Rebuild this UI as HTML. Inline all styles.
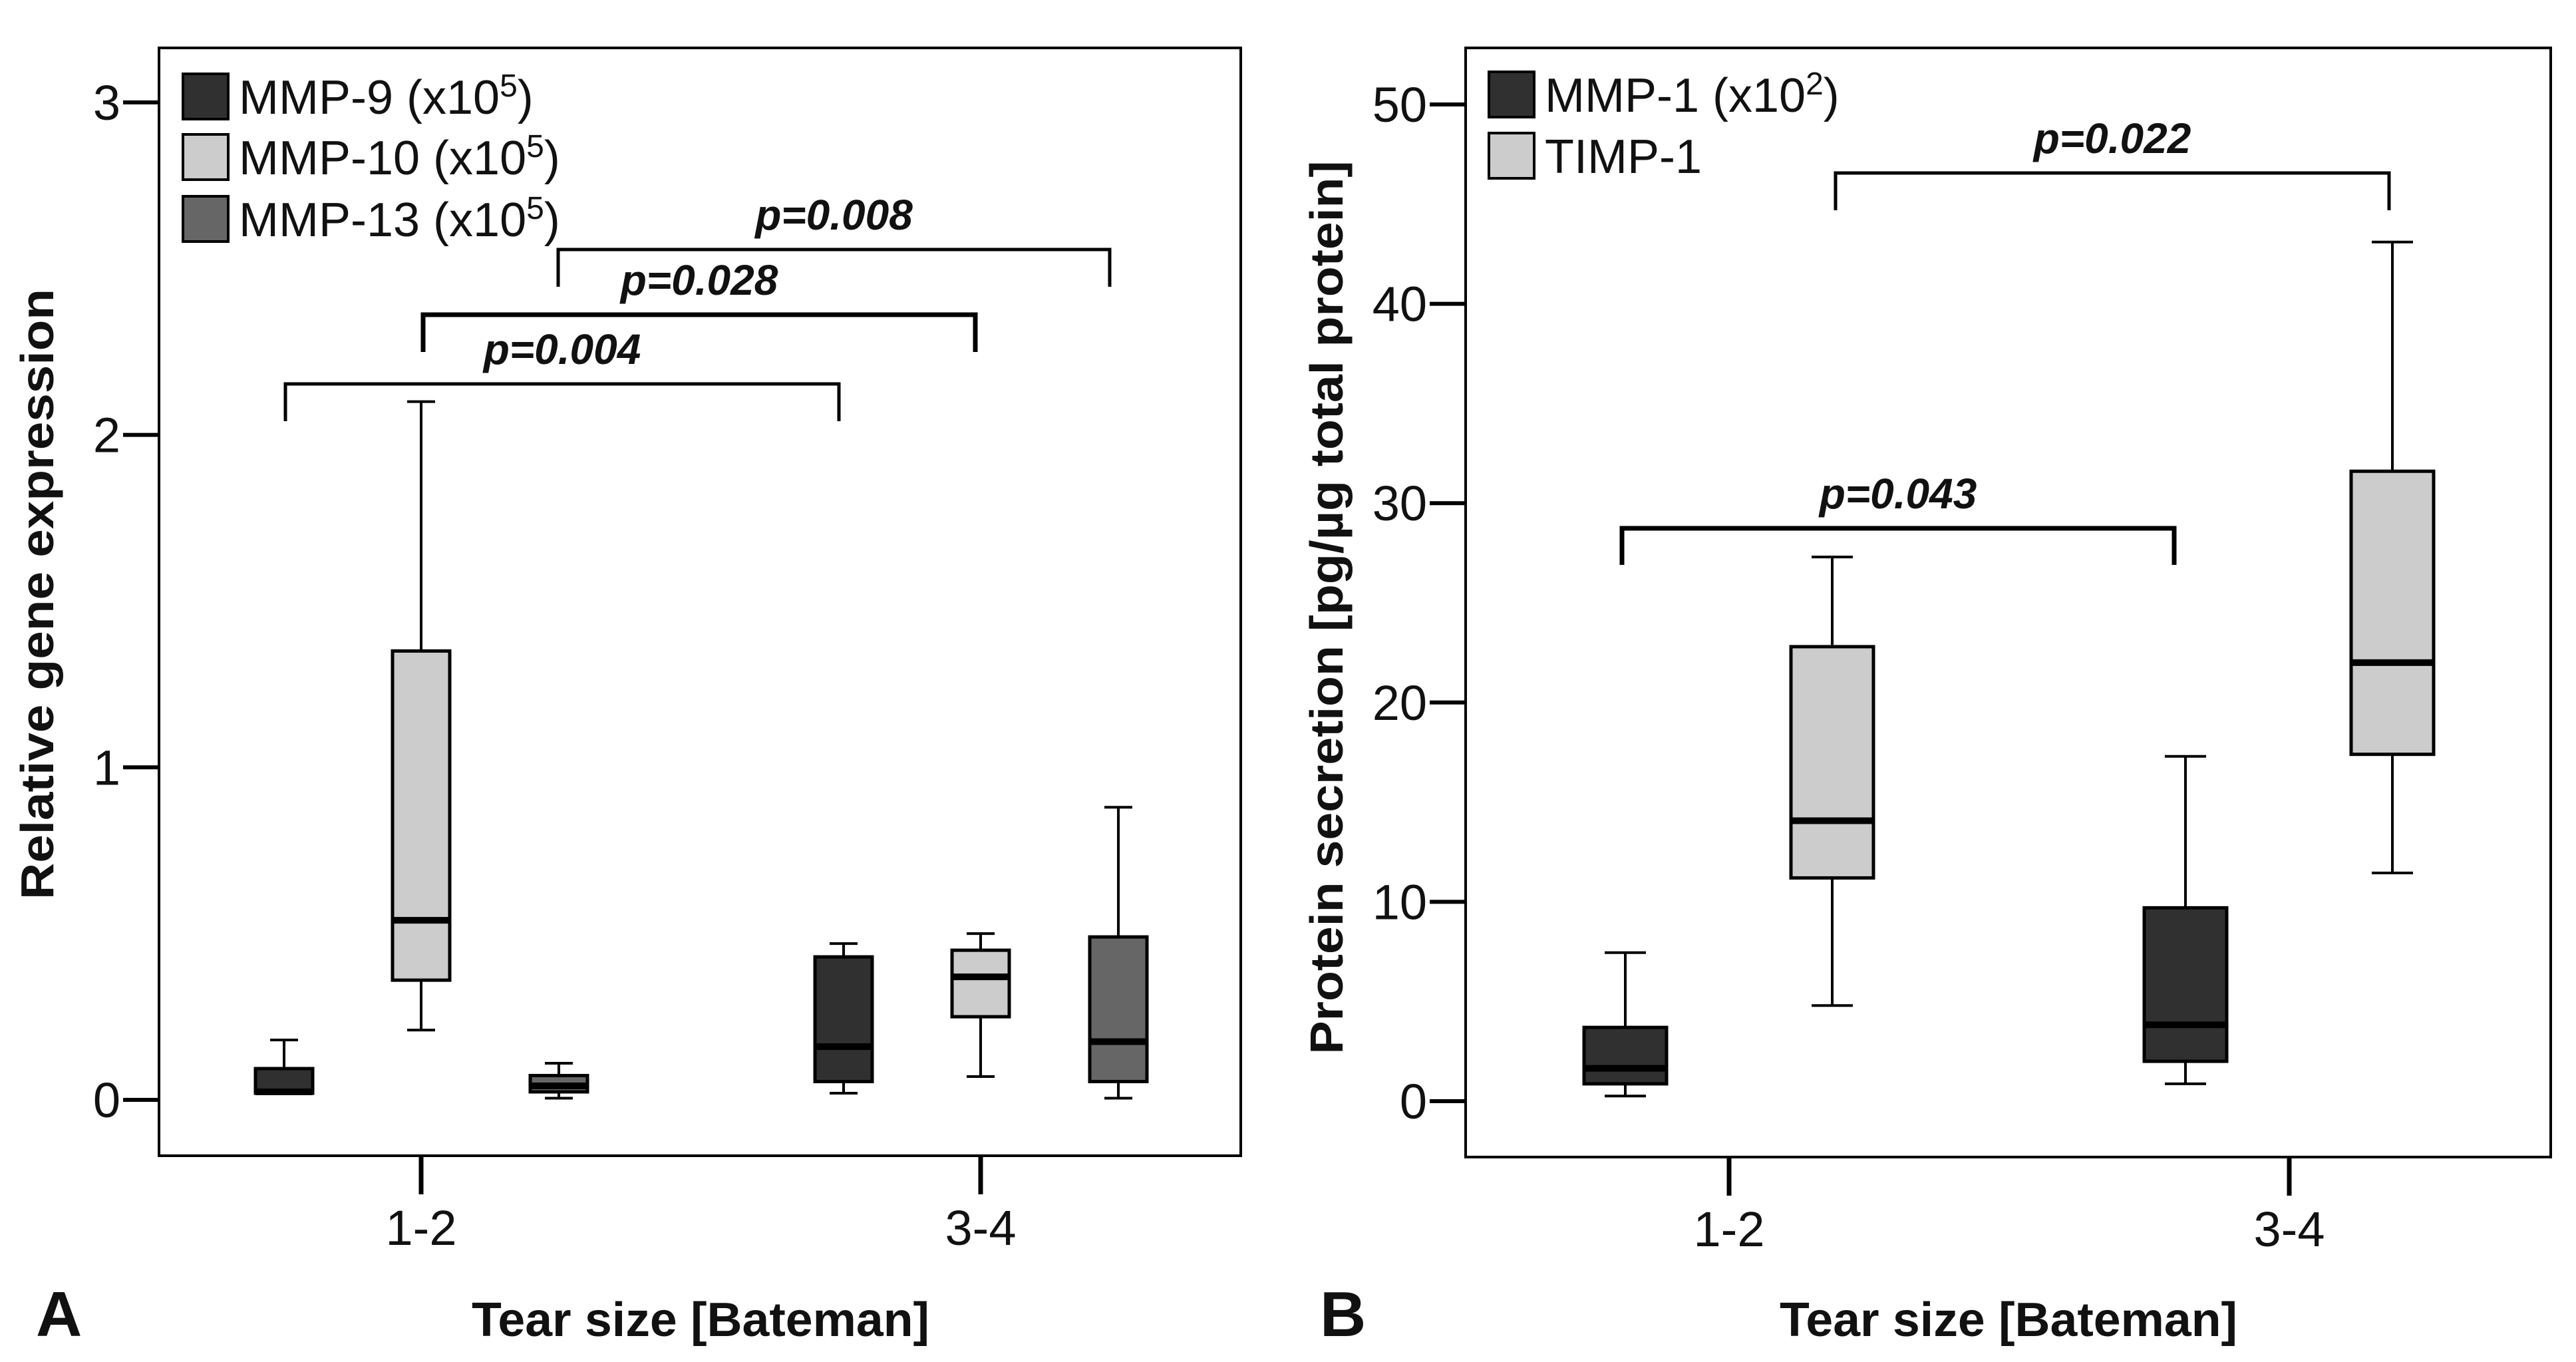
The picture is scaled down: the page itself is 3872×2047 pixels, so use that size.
<!DOCTYPE html>
<html><head><meta charset="utf-8"><style>
html,body{margin:0;padding:0;background:#fff;}
svg{display:block;font-family:"Liberation Sans",sans-serif;}
</style></head><body>
<svg id="fig" width="3872" height="2047" viewBox="0 0 3872 2047">
<g id="panelA"></g>
<g id="panelB"></g>
</svg>
<script>
// Panel A data
const aCategories = ["1-2", "3-4"];
const aSeries = ["MMP-9 (x10^5)", "MMP-10 (x10^5)", "MMP-13 (x10^5)"];
const aYTicks = [0, 1, 2, 3];
// [low, q1, median, q3, high] per series per category
const aMMP9 = [[0.02, 0.02, 0.024, 0.094, 0.18], [0.02, 0.055, 0.16, 0.43, 0.47]];
const aMMP10 = [[0.21, 0.36, 0.54, 1.35, 2.10], [0.07, 0.25, 0.37, 0.45, 0.50]];
const aMMP13 = [[0.005, 0.024, 0.042, 0.073, 0.11], [0.005, 0.055, 0.175, 0.49, 0.88]];
const aPLabels = ["p=0.004", "p=0.028", "p=0.008"];
// Panel B data
const bCategories = ["1-2", "3-4"];
const bSeries = ["MMP-1 (x10^2)", "TIMP-1"];
const bYTicks = [0, 10, 20, 30, 40, 50];
const bMMP1 = [[0.26, 0.87, 1.65, 3.7, 7.45], [0.87, 2.0, 3.83, 9.7, 17.3]];
const bTIMP1 = [[4.8, 11.2, 14.07, 22.8, 27.3], [11.45, 17.4, 22.0, 31.6, 43.1]];
const bPLabels = ["p=0.043", "p=0.022"];

const NS = "http://www.w3.org/2000/svg";
function mk(parent, tag, attrs, text) {
  const e = document.createElementNS(NS, tag);
  for (const k in attrs) e.setAttribute(k, attrs[k]);
  if (text !== undefined) e.textContent = text;
  parent.appendChild(e);
  return e;
}

function drawPanel(g, cfg) {
  const yS = v => cfg.y0 - v * cfg.ppu;
  const xS = i => cfg.catX[i];
  const fr = mk(g, "rect", {x: cfg.L, y: cfg.T, width: cfg.R - cfg.L, height: cfg.B - cfg.T, fill: "none", stroke: "#000", "stroke-width": 4});
  
  
  cfg.yTicks.forEach(t => {
    const y = yS(t);
    const tl = mk(g, "line", {x1: cfg.L - 54, x2: cfg.L, y1: y, y2: y, stroke: "#000", "stroke-width": 6});
    
    
    const tx = mk(g, "text", {x: cfg.L - 58, y: y + 26, "text-anchor": "end", "font-size": 74, fill: "#111"}, String(t));
    
    
  });
  cfg.categories.forEach((c, i) => {
    const x = xS(i);
    const tl = mk(g, "line", {x1: x, x2: x, y1: cfg.B, y2: cfg.B + 58, stroke: "#000", "stroke-width": 7});
    
    
    const tx = mk(g, "text", {x: x, y: cfg.B + 134, "text-anchor": "middle", "font-size": 74, fill: "#111"}, c);
    
    
  });
  cfg.data.forEach((ser, si) => {
    ser.forEach((v, ci) => {
      const cx = xS(ci) + cfg.offsets[si];
      const w = cfg.boxW, cw = cfg.capW;
      const [lo, q1, md, q3, hi] = v;
      const bg = mk(g, "g", {});
      
      
      mk(bg, "line", {x1: cx, x2: cx, y1: yS(hi), y2: yS(q3), stroke: "#000", "stroke-width": 4});
      mk(bg, "line", {x1: cx, x2: cx, y1: yS(q1), y2: yS(lo), stroke: "#000", "stroke-width": 4});
      mk(bg, "line", {x1: cx - cw / 2, x2: cx + cw / 2, y1: yS(hi), y2: yS(hi), stroke: "#000", "stroke-width": 4});
      mk(bg, "line", {x1: cx - cw / 2, x2: cx + cw / 2, y1: yS(lo), y2: yS(lo), stroke: "#000", "stroke-width": 4});
      mk(bg, "rect", {x: cx - w / 2, y: yS(q3), width: w, height: Math.max(1, yS(q1) - yS(q3)), fill: cfg.colors[si], stroke: "#000", "stroke-width": 5});
      mk(bg, "line", {x1: cx - w / 2, x2: cx + w / 2, y1: yS(md), y2: yS(md), stroke: "#000", "stroke-width": 10});
    });
  });
  cfg.brackets.forEach((b, i) => {
    const bg = mk(g, "g", {});
    
    
    mk(bg, "path", {d: `M${b.x1},${b.yl}V${b.y}H${b.x2}V${b.yl}`, fill: "none", stroke: "#000", "stroke-width": b.sw});
    const t = mk(bg, "text", {x: (b.x1 + b.x2) / 2, y: b.y - 30, "text-anchor": "middle", "font-size": 64, "font-weight": "bold", "font-style": "italic", fill: "#111"}, cfg.pLabels[i]);
    
    
  });
  cfg.legend.forEach((lg, i) => {
    const y = cfg.legY[i];
    const e = mk(g, "g", {});
    
    
    mk(e, "rect", {x: cfg.legX, y: y, width: 68, height: 68, fill: cfg.colors[i], stroke: "#000", "stroke-width": 4});
    const t = mk(e, "text", {x: cfg.legX + 84, y: y + 60, "font-size": 72, fill: "#111"});
    const parts = lg.split("^");
    if (parts.length > 1) {
      const base = parts[0].replace("(x10", "").trimEnd();
      mk(t, "tspan", {}, base + " (x10");
      mk(t, "tspan", {dy: -26, "font-size": 48}, parts[1].replace(")", ""));
      mk(t, "tspan", {dy: 26}, ")");
    } else {
      t.textContent = lg;
    }
  });
  const yt = mk(g, "text", {x: 0, y: 0, transform: `translate(${cfg.ytX},${cfg.ytY}) rotate(-90)`, "text-anchor": "middle", "font-size": 70, "font-weight": "bold", fill: "#111", textLength: cfg.ytLen, lengthAdjust: "spacingAndGlyphs"}, cfg.yTitle);
  
  
  const xt = mk(g, "text", {x: cfg.xtX, y: 2008, "text-anchor": "middle", "font-size": 72, "font-weight": "bold", fill: "#111", textLength: 688, lengthAdjust: "spacingAndGlyphs"}, "Tear size [Bateman]");
  
  
  const pl = mk(g, "text", {x: cfg.letterX, y: 2008, "font-size": 96, "font-weight": "bold", fill: "#111"}, cfg.letter);
  
  
}

drawPanel(document.getElementById("panelA"), {
  L: 239, R: 1865, T: 72, B: 1737, y0: 1653, ppu: 499.7,
  catX: [633, 1474], categories: aCategories, yTicks: aYTicks,
  offsets: [-206, 0, 207], boxW: 86, capW: 42,
  data: [aMMP9, aMMP10, aMMP13], keys: ["mmp9", "mmp10", "mmp13"],
  colors: ["#303030", "#cccccc", "#666666"],
  pLabels: aPLabels,
  brackets: [
    {x1: 429, x2: 1261, y: 577, yl: 633, sw: 5},
    {x1: 636, x2: 1466, y: 473, yl: 529, sw: 7},
    {x1: 839, x2: 1668, y: 375, yl: 431, sw: 5}
  ],
  legend: aSeries, legX: 275, legY: [111, 202, 295],
  yTitle: "Relative gene expression", ytX: 80, ytY: 893, ytLen: 918,
  xtX: 1053, letter: "A", letterX: 54
});
drawPanel(document.getElementById("panelB"), {
  L: 2203, R: 3834, T: 72, B: 1739, y0: 1655, ppu: 29.96,
  catX: [2599, 3441], categories: bCategories, yTicks: bYTicks,
  offsets: [-156, 155], boxW: 124, capW: 62,
  data: [bMMP1, bTIMP1], keys: ["mmp1", "timp1"],
  colors: ["#303030", "#cccccc"],
  pLabels: bPLabels,
  brackets: [
    {x1: 2438, x2: 3268, y: 794, yl: 849, sw: 7},
    {x1: 2759, x2: 3591, y: 260, yl: 316, sw: 5}
  ],
  legend: bSeries, legX: 2238, legY: [108, 200],
  yTitle: "Protein secretion [pg/µg total protein]", ytX: 2018, ytY: 913, ytLen: 1343,
  xtX: 3019, letter: "B", letterX: 1984
});
</script>
</body></html>
